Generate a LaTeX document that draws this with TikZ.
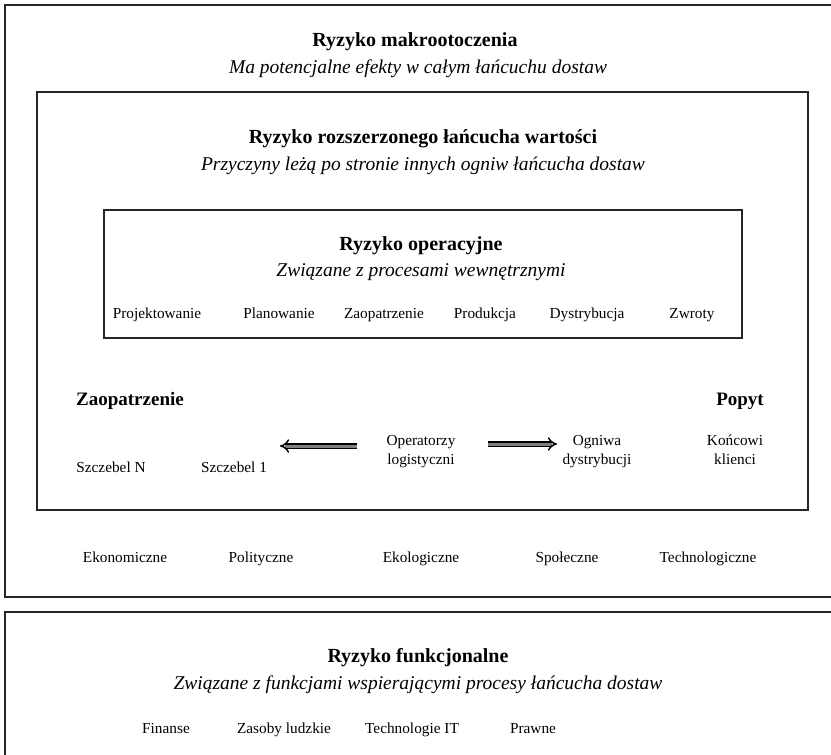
\documentclass[tikz,border=0pt]{standalone}
\usepackage{fontspec}
\setmainfont{Liberation Serif}
\usetikzlibrary{arrows.meta}
\tikzset{
  frame/.style={draw=black!85, line width=1.3pt},
  title/.style={font=\fontsize{20}{24}\selectfont\bfseries, anchor=base},
  subtitle/.style={font=\fontsize{19.5}{23}\selectfont\itshape, anchor=base},
  item/.style={font=\fontsize{15.3}{19}\selectfont, anchor=base, align=center},
  side/.style={font=\fontsize{19}{22}\selectfont\bfseries, anchor=base},
  flow/.style={line width=1.5pt, double=black!50, double distance=3pt, -{Implies[length=6pt]}},
}
\begin{document}
\begin{tikzpicture}[x=1pt, y=-1pt]
\useasboundingbox (0,0) rectangle (831,755);

% frames
\draw[frame] (5,5) rectangle (845,597);
\draw[frame] (37,92) rectangle (808,510);
\draw[frame] (104,210) rectangle (742,338);
\draw[frame] (5,612) rectangle (845,775);

% macro environment
\node[title] (macro) at (415,46) {Ryzyko makrootoczenia};
\node[subtitle] (macrosub) at (418,73) {Ma potencjalne efekty w całym łańcuchu dostaw};

% extended value chain
\node[title] (chain) at (423,143) {Ryzyko rozszerzonego łańcucha wartości};
\node[subtitle] (chainsub) at (423,170) {Przyczyny leżą po stronie innych ogniw łańcucha dostaw};

% operational
\node[title] (oper) at (421,250) {Ryzyko operacyjne};
\node[subtitle] (opersub) at (421,276) {Związane z procesami wewnętrznymi};
\node[item] (p1) at (157,318) {Projektowanie};
\node[item] (p2) at (279,318) {Planowanie};
\node[item] (p3) at (384,318) {Zaopatrzenie};
\node[item] (p4) at (485,318) {Produkcja};
\node[item] (p5) at (587,318) {Dystrybucja};
\node[item] (p6) at (692,318) {Zwroty};

% supply and demand sides
\node[side] (supply) at (130,405) {Zaopatrzenie};
\node[side] (demand) at (740,405) {Popyt};

\node[item] (tierN) at (111,472) {Szczebel N};
\node[item] (tier1) at (234,472) {Szczebel 1};
\node[item] (logist) at (421,464) {Operatorzy\\logistyczni};
\node[item] (distr) at (597,464) {Ogniwa\\dystrybucji};
\node[item] (client) at (735,464) {Końcowi\\klienci};

\coordinate (la) at (357,446);
\coordinate (lb) at (280,446);
\coordinate (ra) at (488,444);
\coordinate (rb) at (557,444);
\draw[flow] (la) -- (lb);
\draw[flow] (ra) -- (rb);

% environment factors
\node[item] (f1) at (125,562) {Ekonomiczne};
\node[item] (f2) at (261,562) {Polityczne};
\node[item] (f3) at (421,562) {Ekologiczne};
\node[item] (f4) at (567,562) {Społeczne};
\node[item] (f5) at (708,562) {Technologiczne};

% functional risk
\node[title] (func) at (418,662) {Ryzyko funkcjonalne};
\node[subtitle] (funcsub) at (418,689) {Związane z funkcjami wspierającymi procesy łańcucha dostaw};
\node[item] (g1) at (166,733) {Finanse};
\node[item] (g2) at (284,733) {Zasoby ludzkie};
\node[item] (g3) at (412,733) {Technologie IT};
\node[item] (g4) at (533,733) {Prawne};
\end{tikzpicture}
\end{document}
